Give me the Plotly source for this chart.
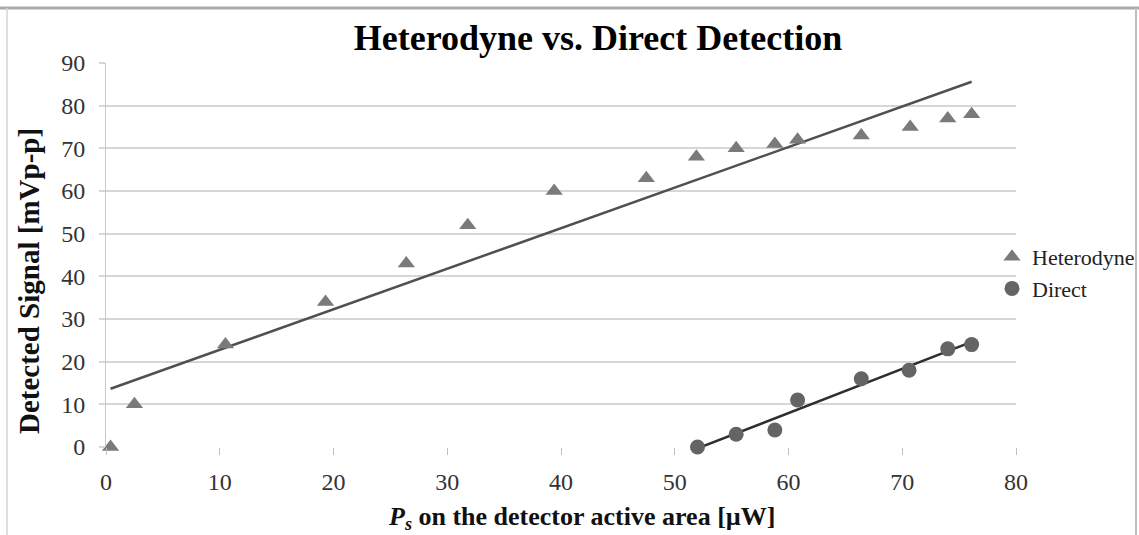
import numpy as np
import plotly.graph_objects as go

# Optical power on the detector [µW] and measured signal [mVp-p]
het_power = [0.4, 2.5, 10.5, 19.3, 26.4, 31.8, 39.4, 47.5, 51.9, 55.4, 58.8, 60.8, 66.4, 70.7, 74.0, 76.1]
het_signal = [0, 10, 24, 34, 43, 52, 60, 63, 68, 70, 71, 72, 73, 75, 77, 78]

dir_power = [52.0, 55.4, 58.8, 60.8, 66.4, 70.6, 74.0, 76.1]
dir_signal = [0, 3, 4, 11, 16, 18, 23, 24]

x_ticks = [0, 10, 20, 30, 40, 50, 60, 70, 80]
y_ticks = [0, 10, 20, 30, 40, 50, 60, 70, 80, 90]

W, H = 1139, 535
L, R, T, B = 106, 1016, 63, 447  # plot area in pixels


def px(x):
    return (x - L) / (R - L)


def py(y):
    return (B - y) / (B - T)


def linear_trend(xs, ys):
    k, b = np.polyfit(xs, ys, 1)
    xe = np.array([min(xs), max(xs)])
    return xe, k * xe + b


serif = "Liberation Serif"

fig = go.Figure()

hx, hy = linear_trend(het_power, het_signal)
dx, dy = linear_trend(dir_power, dir_signal)

fig.add_trace(go.Scatter(x=hx, y=hy, mode="lines", line=dict(color="#505050", width=2.5),
                         showlegend=False, hoverinfo="skip", cliponaxis=False))
fig.add_trace(go.Scatter(x=dx, y=dy, mode="lines", line=dict(color="#2e2e2e", width=2.5),
                         showlegend=False, hoverinfo="skip", cliponaxis=False))

fig.add_trace(go.Scatter(x=het_power, y=het_signal, mode="markers", name="Heterodyne",
                         marker=dict(symbol="triangle-up", size=15, color="#7a7a7a"),
                         cliponaxis=False))
fig.add_trace(go.Scatter(x=dir_power, y=dir_signal, mode="markers", name="Direct",
                         marker=dict(symbol="circle", size=15, color="#646464"),
                         cliponaxis=False))

axis_font = dict(family=serif, size=24, color="#333333")

fig.update_xaxes(range=[0, 80], tickvals=x_ticks, ticktext=[str(v) for v in x_ticks],
                 showgrid=False, zeroline=False, showline=False,
                 ticks="outside", ticklen=7, tickcolor="#bfbfbf", tickwidth=1,
                 tickfont=axis_font, ticklabelstandoff=6)
fig.update_yaxes(range=[0, 90], tickvals=y_ticks, ticktext=[str(v) for v in y_ticks],
                 showgrid=True, gridcolor="#d6d6d6", gridwidth=2,
                 zeroline=False, showline=True, linecolor="#c8c8c8", linewidth=1,
                 ticks="outside", ticklen=6, tickcolor="#d6d6d6", tickwidth=2,
                 tickfont=axis_font, ticklabelstandoff=9)

shapes = [
    # outer frame
    dict(type="line", xref="paper", yref="paper", x0=px(0), x1=px(W), y0=py(8), y1=py(8),
         line=dict(color="#aaaaaa", width=3)),
    dict(type="line", xref="paper", yref="paper", x0=px(7), x1=px(7), y0=py(8), y1=py(H + 5),
         line=dict(color="#d4d4d4", width=1.5)),
    dict(type="line", xref="paper", yref="paper", x0=px(1136), x1=px(1136), y0=py(8), y1=py(H + 5),
         line=dict(color="#bdbdbd", width=2)),
]

annotations = [
    dict(text="<b>Detected Signal [mVp-p]</b>", xref="paper", yref="paper",
         x=px(29), y=py(281), textangle=-90, showarrow=False,
         font=dict(family=serif, size=29, color="#111111"), xanchor="center", yanchor="middle"),
    dict(text="<b><i>P<sub>s</sub></i> on the detector active area [µW]</b>", xref="paper", yref="paper",
         x=px(581), y=py(518), showarrow=False,
         font=dict(family=serif, size=26, color="#111111"), xanchor="center", yanchor="middle"),
]

fig.update_layout(
    width=W, height=H,
    margin=dict(l=L, r=W - R, t=T, b=H - B, autoexpand=False),
    paper_bgcolor="white", plot_bgcolor="white",
    title=dict(text="<b>Heterodyne vs. Direct Detection</b>", xref="paper", x=px(598),
               xanchor="center", yref="container", y=1 - 37 / H, yanchor="middle",
               font=dict(family=serif, size=36, color="#000000")),
    legend=dict(x=px(992), xanchor="left", y=py(273), yanchor="middle",
                bgcolor="rgba(0,0,0,0)", font=dict(family=serif, size=22, color="#222222"),
                tracegroupgap=0),
    shapes=shapes,
    annotations=annotations,
    showlegend=True,
)

fig.write_html("out.html")
